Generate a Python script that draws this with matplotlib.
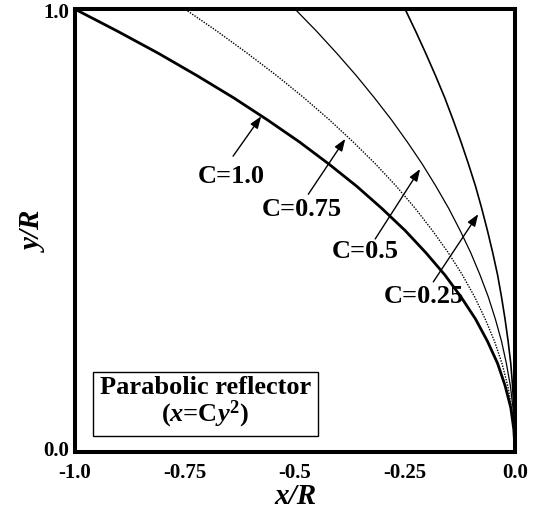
import matplotlib
matplotlib.use('Agg')
import matplotlib.pyplot as plt
from matplotlib.transforms import ScaledTranslation

plt.rcParams['font.family'] = 'Liberation Serif'
plt.rcParams['font.weight'] = 'bold'
plt.rcParams['mathtext.fontset'] = 'custom'
plt.rcParams['mathtext.rm'] = 'Liberation Serif:bold'
plt.rcParams['mathtext.it'] = 'Liberation Serif:italic:bold'
plt.rcParams['mathtext.bf'] = 'Liberation Serif:bold'

# y/R levels and the x/R at those levels
y_vals = [0.0, 0.05, 0.1, 0.15, 0.2, 0.25, 0.3, 0.35, 0.4, 0.45, 0.5,
          0.55, 0.6, 0.65, 0.7, 0.75, 0.8, 0.85, 0.9, 0.95, 1.0]
x_c100 = [0.0, -0.003, -0.01, -0.023, -0.04, -0.063, -0.09, -0.123, -0.16, -0.203, -0.25,
          -0.303, -0.36, -0.423, -0.49, -0.563, -0.64, -0.723, -0.81, -0.903, -1.0]
x_c075 = [0.0, -0.002, -0.008, -0.017, -0.03, -0.047, -0.068, -0.092, -0.12, -0.152, -0.188,
          -0.227, -0.27, -0.317, -0.368, -0.422, -0.48, -0.542, -0.608, -0.677, -0.75]
x_c050 = [0.0, -0.001, -0.005, -0.011, -0.02, -0.031, -0.045, -0.061, -0.08, -0.101, -0.125,
          -0.151, -0.18, -0.211, -0.245, -0.281, -0.32, -0.361, -0.405, -0.451, -0.5]
x_c025 = [0.0, -0.001, -0.003, -0.006, -0.01, -0.016, -0.023, -0.031, -0.04, -0.051, -0.063,
          -0.076, -0.09, -0.106, -0.123, -0.141, -0.16, -0.181, -0.203, -0.226, -0.25]

labels = ['C=1.0', 'C=0.75', 'C=0.5', 'C=0.25']
# arrow head, arrow tail, label centre (data coords)
arrow_heads = [(-0.577, 0.758), (-0.386, 0.707), (-0.216, 0.639), (-0.084, 0.537)]
arrow_tails = [(-0.641, 0.668), (-0.470, 0.582), (-0.318, 0.481), (-0.186, 0.384)]
label_pos = [(-0.645, 0.625), (-0.484, 0.549), (-0.341, 0.456), (-0.207, 0.354)]

xticks = [-1.0, -0.75, -0.5, -0.25, 0.0]
xticklabels = ['-1.0', '-0.75', '-0.5', '-0.25', '0.0']
yticks = [0.0, 1.0]
yticklabels = ['0.0', '1.0']

fig = plt.figure(figsize=(5.4, 5.1), dpi=100)
ax = fig.add_axes([0.139, 0.112, 0.815, 0.868])

ax.plot(x_c100, y_vals, color='black', lw=2.0, solid_capstyle='butt')
ax.plot(x_c075, y_vals, color='black', lw=1.0, linestyle=(0, (1, 1)))
ax.plot(x_c050, y_vals, color='black', lw=0.9)
ax.plot(x_c025, y_vals, color='black', lw=1.2)

for lab, head, tail, pos in zip(labels, arrow_heads, arrow_tails, label_pos):
    ax.annotate('', xy=head, xytext=tail,
                arrowprops=dict(arrowstyle='-|>,head_length=0.6,head_width=0.22',
                                color='black', lw=1.0, mutation_scale=12,
                                shrinkA=0, shrinkB=0))
    ax.text(pos[0], pos[1], lab, fontsize=19, fontweight='bold',
            ha='center', va='center')

ax.text(-0.704, 0.113, 'Parabolic reflector\n($x$=C$y^2$)', fontsize=19,
        fontweight='bold', ha='center', va='center', linespacing=1.0,
        multialignment='center',
        bbox=dict(boxstyle='square,pad=0.25', facecolor='white',
                  edgecolor='black', lw=1.0))

ax.set_xlim(-1.0, 0.0)
ax.set_ylim(0.0, 1.0)
ax.set_xticks(xticks)
ax.set_xticklabels(xticklabels)
ax.set_yticks(yticks)
ax.set_yticklabels(yticklabels)
ax.tick_params(length=0, labelsize=15)
ax.tick_params(axis='x', pad=7)
ax.tick_params(axis='y', pad=4)
for lbl in ax.get_xticklabels() + ax.get_yticklabels():
    lbl.set_fontweight('bold')

for sp in ax.spines.values():
    sp.set_linewidth(2.9)
    sp.set_color('black')

ax.set_xlabel('x/R', fontsize=21, fontstyle='italic', fontweight='bold', labelpad=0)
ax.set_ylabel('y/R', fontsize=21, fontstyle='italic', fontweight='bold', labelpad=-3)

# the bottom y label sits a touch above its tick, as in the original
fig.canvas.draw()
lbl0 = ax.get_yticklabels()[0]
lbl0.set_transform(lbl0.get_transform() + ScaledTranslation(0, 3 / 72, fig.dpi_scale_trans))

fig.savefig('out.png', dpi=100, facecolor='white')
